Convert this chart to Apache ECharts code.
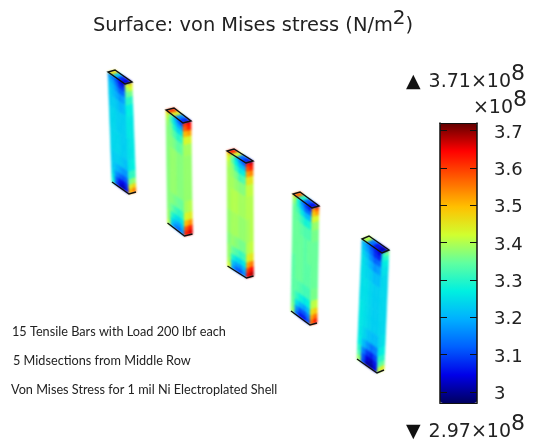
<!DOCTYPE html>
<html><head><meta charset="utf-8">
<script src="https://cdn.jsdelivr.net/npm/echarts@6/dist/echarts.min.js"></script>
<style>html,body{margin:0;padding:0;background:#fff}#c{width:534px;height:446px}</style>
</head><body><div id="c"></div>
<script>
// ---- data (von Mises stress, x 1e8 N/m^2); each row: five wide-face cells, two narrow-face cells
const stressBar1 = [
 [3.17,3.14,3.10,3.05,3.03,3.42,3.46],[3.20,3.18,3.13,3.08,3.08,3.38,3.42],
 [3.22,3.20,3.16,3.12,3.13,3.34,3.36],[3.23,3.21,3.19,3.17,3.18,3.30,3.30],
 [3.23,3.23,3.22,3.20,3.21,3.27,3.27],[3.24,3.24,3.23,3.23,3.23,3.26,3.26],
 [3.24,3.24,3.24,3.23,3.23,3.25,3.26],[3.23,3.23,3.23,3.22,3.21,3.26,3.27],
 [3.23,3.21,3.19,3.17,3.17,3.30,3.31],[3.24,3.17,3.13,3.11,3.12,3.36,3.38],
 [3.26,3.12,3.06,3.05,3.08,3.44,3.47],[3.28,3.10,3.03,3.01,3.06,3.50,3.54]];
const stressBar2 = [
 [3.44,3.34,3.22,3.14,3.10,3.60,3.64],[3.40,3.32,3.25,3.19,3.18,3.57,3.62],
 [3.38,3.35,3.29,3.24,3.25,3.50,3.52],[3.37,3.36,3.33,3.30,3.31,3.43,3.43],
 [3.37,3.37,3.36,3.34,3.35,3.39,3.39],[3.37,3.38,3.38,3.37,3.37,3.38,3.38],
 [3.37,3.38,3.38,3.37,3.37,3.38,3.38],[3.37,3.37,3.36,3.35,3.35,3.39,3.40],
 [3.37,3.35,3.32,3.30,3.31,3.43,3.44],[3.38,3.30,3.26,3.24,3.26,3.50,3.53],
 [3.38,3.25,3.20,3.18,3.21,3.58,3.62],[3.40,3.21,3.15,3.13,3.17,3.62,3.66]];
const stressBar3 = [
 [3.46,3.36,3.24,3.16,3.12,3.62,3.66],[3.42,3.34,3.27,3.21,3.20,3.58,3.62],
 [3.40,3.37,3.31,3.26,3.27,3.52,3.54],[3.39,3.38,3.36,3.32,3.33,3.45,3.45],
 [3.39,3.39,3.38,3.37,3.37,3.41,3.41],[3.39,3.40,3.40,3.39,3.39,3.40,3.40],
 [3.38,3.39,3.39,3.38,3.38,3.39,3.40],[3.37,3.38,3.37,3.36,3.36,3.40,3.41],
 [3.38,3.35,3.33,3.31,3.32,3.44,3.45],[3.38,3.29,3.25,3.24,3.26,3.52,3.55],
 [3.39,3.22,3.18,3.17,3.20,3.60,3.64],[3.42,3.18,3.12,3.11,3.16,3.64,3.68]];
const stressBar4 = [
 [3.40,3.28,3.16,3.09,3.06,3.52,3.58],[3.37,3.29,3.20,3.13,3.13,3.48,3.52],
 [3.35,3.32,3.26,3.21,3.21,3.43,3.43],[3.35,3.34,3.31,3.28,3.29,3.38,3.38],
 [3.35,3.35,3.34,3.33,3.33,3.36,3.36],[3.35,3.35,3.35,3.34,3.35,3.35,3.35],
 [3.34,3.35,3.35,3.34,3.34,3.35,3.35],[3.34,3.34,3.33,3.32,3.32,3.36,3.36],
 [3.34,3.31,3.28,3.26,3.27,3.40,3.41],[3.35,3.25,3.20,3.18,3.21,3.46,3.48],
 [3.36,3.17,3.11,3.11,3.15,3.52,3.56],[3.38,3.13,3.06,3.06,3.11,3.56,3.62]];
const stressBar5 = [
 [3.20,3.16,3.11,3.07,3.04,3.30,3.36],[3.22,3.18,3.13,3.08,3.07,3.28,3.30],
 [3.24,3.21,3.16,3.12,3.13,3.26,3.27],[3.25,3.23,3.20,3.17,3.18,3.25,3.25],
 [3.25,3.24,3.23,3.21,3.21,3.24,3.24],[3.25,3.25,3.24,3.23,3.23,3.24,3.24],
 [3.26,3.25,3.24,3.23,3.23,3.24,3.24],[3.26,3.24,3.22,3.21,3.21,3.24,3.25],
 [3.27,3.21,3.17,3.14,3.15,3.26,3.27],[3.30,3.15,3.09,3.07,3.10,3.30,3.30],
 [3.33,3.11,3.04,3.02,3.06,3.33,3.35],[3.38,3.10,3.01,3.00,3.04,3.40,3.44]];
const openingBar1 = [3.46,3.22,3.08,3.04];
const openingBar2 = [3.60,3.44,3.16,3.08];
const openingBar3 = [3.62,3.42,3.14,3.08];
const openingBar4 = [3.56,3.30,3.12,3.06];
const openingBar5 = [3.40,3.14,3.06,3.02];
const colorbarTicks = [3,3.1,3.2,3.3,3.4,3.5,3.6,3.7];
const stressMin = 2.97, stressMax = 3.72;
const maxText = '3.71', minText = '2.97', scaleExp = '8';
const titleText = 'Surface: von Mises stress (N/m';
const noteLines = ['15 Tensile Bars with Load 200 lbf each','5 Midsections from Middle Row','Von Mises Stress for 1 mil Ni Electroplated Shell'];

// ---- layout of the rendered solids
const solids = [
 {a:[108,72], w:[17,12], d:[7,-2], h:[4,110]},
 {a:[166,110],w:[17,13], d:[8,-2], h:[1.5,113]},
 {a:[227,151],w:[19,12], d:[7,-2], h:[0.5,115]},
 {a:[293,194],w:[19,14], d:[7,-2], h:[-2,117]},
 {a:[362,239],w:[20,14], d:[7,-3], h:[-5,120]}];
const rowEdges = [0,.04,.08,.13,.2,.3,.5,.7,.8,.87,.92,.96,1];
const wideCols = 5, narrowCols = 2;

const fields = [stressBar1,stressBar2,stressBar3,stressBar4,stressBar5];
const openings = [openingBar1,openingBar2,openingBar3,openingBar4,openingBar5];
const cells = [];
fields.forEach((f,b)=>f.forEach((row,r)=>row.forEach((v,c)=>cells.push([b,0,r,c,v]))));
openings.forEach((o,b)=>o.forEach((v,c)=>cells.push([b,1,0,c,v])));

function P(api,s,u,v,t){ // u along wide side, v along narrow side, t down the height
  return api.coord([s.a[0]+u*s.w[0]+v*s.d[0]+t*s.h[0], s.a[1]+u*s.w[1]+v*s.d[1]+t*s.h[1]]);
}
function renderCell(params,api){
  const s=solids[api.value(0)],kind=api.value(1),r=api.value(2),c=api.value(3);
  let pts;
  if(kind===1){
    const u0=c/4,u1=(c+1)/4;
    pts=[P(api,s,u0,0,0),P(api,s,u1,0,0),P(api,s,u1,1,0),P(api,s,u0,1,0)];
  }else{
    const t0=rowEdges[r],t1=rowEdges[r+1];
    if(c<wideCols){
      const u0=c/wideCols,u1=(c+1)/wideCols;
      pts=[P(api,s,u0,0,t0),P(api,s,u1,0,t0),P(api,s,u1,0,t1),P(api,s,u0,0,t1)];
    }else{
      const v0=(c-wideCols)/narrowCols,v1=(c-wideCols+1)/narrowCols;
      pts=[P(api,s,1,v0,t0),P(api,s,1,v1,t0),P(api,s,1,v1,t1),P(api,s,1,v0,t1)];
    }
  }
  const col=api.visual('color');
  return {type:'polygon',shape:{points:pts},style:{fill:col,stroke:col,lineWidth:.6}};
}
function renderRim(params,api){
  const s=solids[api.value(0)];
  const ink='#111';
  return {type:'group',children:[
    {type:'polygon',shape:{points:[P(api,s,0,0,0),P(api,s,1,0,0),P(api,s,1,1,0),P(api,s,0,1,0)]},
     style:{fill:'none',stroke:ink,lineWidth:1.4}},
    {type:'polyline',shape:{points:[P(api,s,0,0,1),P(api,s,1,0,1),P(api,s,1,1,1)]},
     style:{fill:'none',stroke:ink,lineWidth:1.4}}
  ]};
}
const ramp=['#000060','#0000e8','#0060ff','#00b0ff','#00f0e0','#60ffa0','#d0ff30','#ffc000','#ff6000','#ff0000','#600000'];
const sup={fontSize:22,fontFamily:'DejaVu Sans',fill:'#222',padding:[0,0,17,0]};
const big={fontSize:19,fontFamily:'DejaVu Sans',fill:'#222'};
const tri={fontSize:19,fontFamily:'DejaVu Sans',fill:'#111',padding:[0,8,0,0]};
const bar=(side)=>({gridIndex:1,type:'value',min:0,max:1,position:side,z:10,
   axisLine:{show:true,onZero:false,lineStyle:{color:'#111',width:1.2}},axisTick:{show:false},axisLabel:{show:false},splitLine:{show:false}});
const chart=echarts.init(document.getElementById('c'),null,{renderer:'canvas'});
chart.setOption({
  animation:false,backgroundColor:'#fff',
  grid:[{left:0,top:0,width:534,height:446,show:false},
        {left:440,top:123,width:37,height:280,show:false}],
  xAxis:[{gridIndex:0,type:'value',min:0,max:534,show:false},bar('top'),bar('bottom')],
  yAxis:[{gridIndex:0,type:'value',min:0,max:446,inverse:true,show:false},
         {gridIndex:1,type:'value',min:stressMin,max:stressMax,position:'left',z:10,
          axisLine:{show:true,onZero:false,lineStyle:{color:'#111',width:1.5}},splitLine:{show:false},
          axisTick:{show:true,inside:true,length:7,customValues:colorbarTicks,lineStyle:{color:'#111',width:1}},
          axisLabel:{show:false}},
         {gridIndex:1,type:'value',min:stressMin,max:stressMax,position:'right',z:10,
          axisLine:{show:true,onZero:false,lineStyle:{color:'#111',width:1.5}},splitLine:{show:false},
          axisTick:{show:true,inside:true,length:7,customValues:colorbarTicks,lineStyle:{color:'#111',width:1}},
          axisLabel:{show:true,customValues:colorbarTicks,margin:17,formatter:v=>'{v|'+v+'}',
            rich:{v:{fontSize:18,padding:[5,0,0,0],color:'#222',fontFamily:'DejaVu Sans'}}}}],
  visualMap:{type:'continuous',seriesIndex:0,dimension:4,min:stressMin,max:stressMax,left:440,top:123,
    itemWidth:37,itemHeight:280,calculable:false,realtime:false,text:['',''],showLabel:false,padding:0,
    inRange:{color:ramp}},
  title:{text:titleText+'{s|2}{b|)}',left:93,top:9,padding:0,
    textStyle:{fontSize:19.4,fontWeight:'normal',fontFamily:'DejaVu Sans',color:'#222',
      rich:{s:{fontSize:20,fontFamily:'DejaVu Sans',color:'#222',padding:[0,0,13,0]},b:{fontSize:19.4,fontFamily:'DejaVu Sans',color:'#222'}}}},
  graphic:[
    {type:'text',right:9,top:63,style:{text:'{t|▲}{b|'+maxText+'×10}{s|'+scaleExp+'}',rich:{t:tri,b:big,s:sup}}},
    {type:'text',right:7,top:89,style:{text:'{b|×10}{s|'+scaleExp+'}',rich:{b:big,s:sup}}},
    {type:'text',right:9,top:413,style:{text:'{t|▼}{b|'+minText+'×10}{s|'+scaleExp+'}',rich:{t:tri,b:big,s:sup}}},
    {type:'text',left:12,top:325,style:{text:noteLines[0],fontSize:12.7,fontFamily:'Lato',fill:'#222'}},
    {type:'text',left:13,top:354,style:{text:noteLines[1],fontSize:12.7,fontFamily:'Lato',fill:'#222'}},
    {type:'text',left:11,top:383,style:{text:noteLines[2],fontSize:12.7,fontFamily:'Lato',fill:'#222'}}
  ],
  series:[
    {type:'custom',coordinateSystem:'cartesian2d',xAxisIndex:0,yAxisIndex:0,data:cells,renderItem:renderCell,
     encode:{x:0,y:1},silent:true,clip:false,zlevel:1},
    {type:'custom',coordinateSystem:'cartesian2d',xAxisIndex:0,yAxisIndex:0,data:solids.map((s,i)=>[i]),renderItem:renderRim,
     encode:{x:0},silent:true,clip:false,zlevel:2}
  ]
});
// soften the rendered solids (the original rendering is a smooth field)
const layers=document.querySelectorAll('#c canvas');
if(layers[1]) layers[1].style.filter='blur(1.3px)';
if(layers[2]) layers[2].style.filter='blur(0.4px)';
</script></body></html>
